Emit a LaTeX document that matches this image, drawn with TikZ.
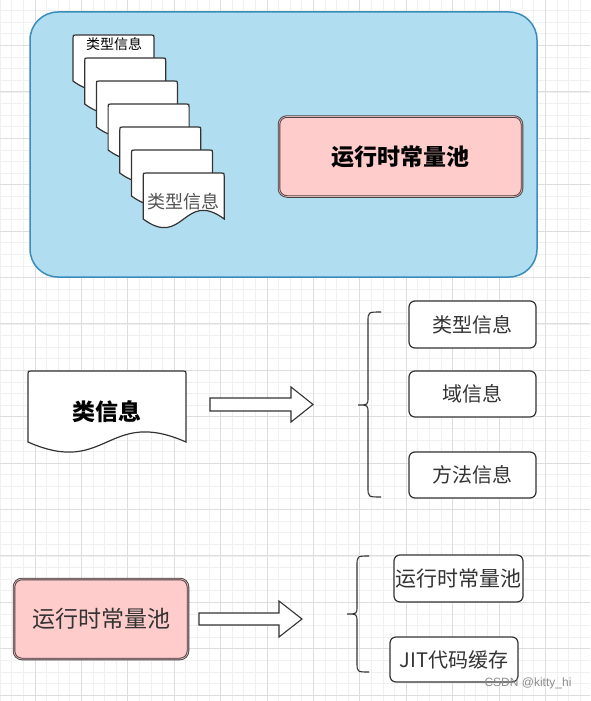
\documentclass[tikz,border=0pt]{standalone}
\usepackage{fontspec}
\setmainfont{Liberation Sans}
\newfontfamily\cjk{Noto Sans CJK SC}
\definecolor{bluefill}{HTML}{B1DDF0}
\definecolor{bluestroke}{HTML}{3A8DBB}
\definecolor{pinkfill}{HTML}{FFCCCC}
\definecolor{gridminor}{HTML}{F0F0F0}
\definecolor{gridmajor}{HTML}{DDDDDD}
\definecolor{ink}{HTML}{333333}
\definecolor{pinkink}{HTML}{4A4345}
\tikzset{
  whitebox/.style={draw=ink, line width=1.2pt, fill=white, rounded corners=6pt,
    text=ink, font=\cjk\fontsize{20}{24}\selectfont, inner sep=0pt},
  pinkbox/.style={draw=pinkink, line width=0.9pt, double=pinkfill!80!pinkink, double distance=0.7pt,
    fill=pinkfill, rounded corners=8pt, inner sep=0pt},
  docstyle/.style={draw=ink, line width=1.2pt, fill=white},
  blockarrow/.style={draw=ink, line width=1.1pt, fill=white, line join=miter},
  bracestyle/.style={draw=ink, line width=1.1pt},
}
\newcommand{\docpath}[5]{(#1,#2+3) .. controls (#1,#2) .. (#1+3,#2) -- (#1+#3-3,#2) .. controls (#1+#3,#2) .. (#1+#3,#2+3) -- (#1+#3,#2+#4) .. controls (#1+0.5*#3,#2+#4-#5) and (#1+0.5*#3,#2+#4+#5) .. (#1,#2+#4) -- cycle}
\begin{document}
\begin{tikzpicture}[x=1pt,y=-1pt]
\useasboundingbox (0,0) rectangle (590,701);
\fill[white] (0,0) rectangle (590,701);
% grid
\foreach \i in {0,...,50} {
  \pgfmathsetmacro\xx{0.2+11.6*\i}
  \draw[gridminor, line width=0.8pt] (\xx,0) -- (\xx,701);
}
\foreach \i in {1,...,60} {
  \pgfmathsetmacro\yy{-0.9+11.6*\i}
  \draw[gridminor, line width=0.8pt] (0,\yy) -- (590,\yy);
}
\foreach \i in {0,...,11} {
  \pgfmathsetmacro\xx{35+46.4*\i}
  \draw[gridmajor, line width=1pt] (\xx,0) -- (\xx,701);
}
\foreach \i in {0,...,14} {
  \pgfmathsetmacro\yy{45.5+46.4*\i}
  \draw[gridmajor, line width=1pt] (0,\yy) -- (590,\yy);
}

% big blue container
\node[draw=bluestroke, fill=bluefill, line width=1.5pt, rounded corners=28pt,
  minimum width=507pt, minimum height=265pt, inner sep=0pt] (area) at (283.5,144.5) {};

% stacked documents
\foreach \k in {0,...,6} {
  \pgfmathsetmacro\dx{73+11.7*\k}
  \pgfmathsetmacro\dy{35+23*\k}
  \draw[docstyle] \docpath{\dx}{\dy}{81}{46}{30};
}
\node[font=\cjk\fontsize{14}{16}\selectfont, text=black] (doc1) at (114,44) {类型信息};
\node[font=\cjk\fontsize{18}{20}\selectfont, text=ink!85] (doc7) at (183.5,202) {类型信息};

% runtime constant pool (top)
\node[pinkbox, minimum width=243pt, minimum height=80pt,
  font=\cjk\bfseries\fontsize{23}{26}\selectfont] (pool) at (400.5,156.5) {运行时常量池};

% class info document
\draw[docstyle] \docpath{28}{371}{158}{71}{35};
\node[font=\cjk\bfseries\fontsize{23}{26}\selectfont] (cls) at (107,412) {类信息};

% arrow 1
\draw[blockarrow] (210,398) -- (291,398) -- (291,387) -- (313,404.5) -- (291,422) -- (291,411) -- (210,411) -- cycle;

% brace 1
\draw[bracestyle] (381,312) .. controls (368,312) .. (368,322) -- (368,397)
  .. controls (368,405) .. (358,405) .. controls (368,405) .. (368,413)
  -- (368,487) .. controls (368,497) .. (381,497);

\node[whitebox, minimum width=127pt, minimum height=47pt] (t1) at (472.5,324.5) {类型信息};
\node[whitebox, minimum width=127pt, minimum height=46pt] (t2) at (472.5,394) {域信息};
\node[whitebox, minimum width=127pt, minimum height=46pt] (t3) at (472.5,475) {方法信息};

% runtime constant pool (bottom)
\node[pinkbox, minimum width=174pt, minimum height=80pt,
  font=\cjk\fontsize{23}{26}\selectfont, text=ink] (pool2) at (101,619) {运行时常量池};

% arrow 2
\draw[blockarrow] (199,613) -- (279,613) -- (279,601) -- (302,619) -- (279,637) -- (279,625) -- (199,625) -- cycle;

% brace 2
\draw[bracestyle] (369,556) .. controls (357,556) .. (357,566) -- (357,606)
  .. controls (357,614) .. (347,614) .. controls (357,614) .. (357,622)
  -- (357,662) .. controls (357,672) .. (369,672);

\node[whitebox, minimum width=129pt, minimum height=47pt, font=\cjk\fontsize{21}{24}\selectfont] (r1) at (458.5,578.5) {运行时常量池};
\node[whitebox, minimum width=128pt, minimum height=45pt, font=\cjk\fontsize{20}{24}\selectfont] (r2) at (454,659.5) {JIT代码缓存};

\node[font=\fontsize{12}{14}\selectfont, text=black!45] (wm) at (528,683) {CSDN @kitty\_hi};
\end{tikzpicture}
\end{document}
